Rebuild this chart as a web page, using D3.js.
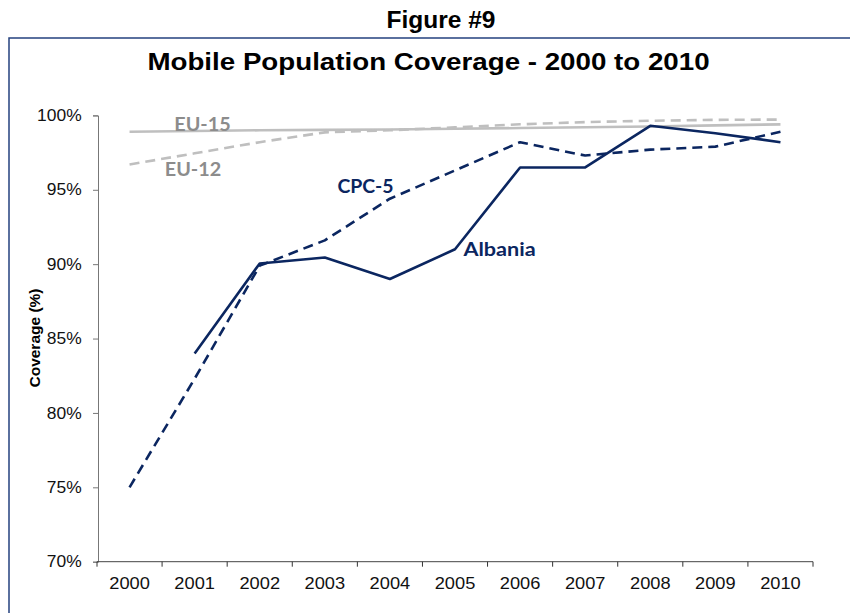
<!DOCTYPE html>
<html>
<head>
<meta charset="utf-8">
<script src="https://cdn.jsdelivr.net/npm/d3@7"></script>
<style>
  html, body { margin: 0; padding: 0; background: #fff; }
  svg { display: block; }
</style>
</head>
<body>
<svg id="chart" width="850" height="613"></svg>
<script>
const years = ["2000","2001","2002","2003","2004","2005","2006","2007","2008","2009","2010"];
const albania = [null, 84.0, 90.05, 90.45, 89.0, 91.0, 96.5, 96.5, 99.3, 98.8, 98.2];
const cpc5    = [75.0, 82.3, 89.9, 91.6, 94.4, 96.3, 98.2, 97.3, 97.7, 97.9, 98.9];
const eu15    = [98.9, 98.95, 99.0, 99.03, 99.05, 99.1, 99.15, 99.2, 99.25, 99.33, 99.4];
const eu12    = [96.7, 97.45, 98.2, 98.86, 99.0, 99.2, 99.4, 99.55, 99.64, 99.7, 99.72];
const yTicks  = [70, 75, 80, 85, 90, 95, 100];

const svg = d3.select("#chart");
const x0 = 97, x1 = 813, yTop = 115.4, yBot = 561.7;
const ARIAL = "Liberation Sans, Arial, sans-serif";

const x = d3.scaleBand().domain(years).range([x0, x1]).paddingInner(0).paddingOuter(0);
const y = d3.scaleLinear().domain([70, 100]).range([yBot, yTop]);
const cx = d => x(d) + x.bandwidth() / 2;

// frame
svg.append("path")
  .attr("d", `M9,620 L9,38 L852,38`)
  .attr("fill", "none").attr("stroke", "#25427f").attr("stroke-width", 1.5);

// titles
svg.append("text").attr("transform", "translate(441,28)").attr("text-anchor", "middle")
  .attr("font-family", ARIAL).attr("font-weight", "bold")
  .attr("font-size", 24.5).text("Figure #9");
svg.append("text").attr("transform", "translate(428.5,70) scale(1.18,1)").attr("text-anchor", "middle")
  .attr("font-family", ARIAL).attr("font-weight", "bold")
  .attr("font-size", 23.5).text("Mobile Population Coverage - 2000 to 2010");

// y axis
const yAxis = svg.append("g").attr("transform", `translate(${x0 + 1},0)`)
  .call(d3.axisLeft(y).tickValues(yTicks).tickFormat(d => d + "%").tickSize(5).tickPadding(10));
yAxis.select(".domain").attr("stroke", "#777");
yAxis.selectAll(".tick line").attr("stroke", "#777");
yAxis.selectAll("text").attr("font-family", ARIAL)
  .attr("font-size", 16).attr("fill", "#111").attr("transform", "scale(1.09,1)");

// x axis
const xAxis = svg.append("g").attr("transform", `translate(0,${yBot})`)
  .call(d3.axisBottom(x).tickSize(0).tickPadding(16));
xAxis.select(".domain").attr("stroke", "#444").attr("d", `M${x0},0H${x1}`);
xAxis.selectAll("text").attr("font-family", ARIAL)
  .attr("font-size", 16.3).attr("fill", "#111").attr("dy", "0.71em")
  .attr("transform", "scale(1.12,1)");
// boundary ticks between categories
svg.append("g").selectAll("line").data(d3.range(years.length + 1)).join("line")
  .attr("x1", i => x0 + i * x.bandwidth()).attr("x2", i => x0 + i * x.bandwidth())
  .attr("y1", yBot).attr("y2", yBot + 5)
  .attr("stroke", "#333").attr("stroke-width", 1);

// y axis title
svg.append("text")
  .attr("transform", `translate(40,338) rotate(-90)`)
  .attr("text-anchor", "middle")
  .attr("font-family", ARIAL).attr("font-weight", "bold")
  .attr("font-size", 15.5).text("Coverage (%)");

const line = d3.line().defined(d => d.v != null).x(d => cx(d.k)).y(d => y(d.v));
const series = [
  { vals: eu15, color: "#bfbfbf", dash: null, w: 2.6 },
  { vals: eu12, color: "#bfbfbf", dash: "10,6", w: 2.6 },
  { vals: cpc5, color: "#0b2660", dash: "10,6", w: 2.6 },
  { vals: albania, color: "#0b2660", dash: null, w: 2.6 }
];
series.forEach(s => {
  svg.append("path")
    .datum(years.map((k, i) => ({ k, v: s.vals[i] })))
    .attr("d", line)
    .attr("fill", "none").attr("stroke", s.color).attr("stroke-width", s.w)
    .attr("stroke-dasharray", s.dash).attr("stroke-linejoin", "round");
});

// series labels
const labels = [
  { t: "EU-15", x: 202.5, y: 131, c: "#8c8c8c", sx: 1.1 },
  { t: "EU-12", x: 193, y: 176, c: "#8c8c8c", sx: 1.1 },
  { t: "CPC-5", x: 365.5, y: 193, c: "#0b2660", sx: 1.08 },
  { t: "Albania", x: 499.5, y: 256, c: "#0b2660", sx: 1.2 }
];
svg.append("g").selectAll("text").data(labels).join("text")
  .attr("transform", d => `translate(${d.x},${d.y}) scale(${d.sx},1)`).attr("text-anchor", "middle")
  .attr("font-family", "Lato, 'Open Sans', sans-serif").attr("font-weight", "bold")
  .attr("font-size", 18).attr("fill", d => d.c).text(d => d.t);
</script>
</body>
</html>
